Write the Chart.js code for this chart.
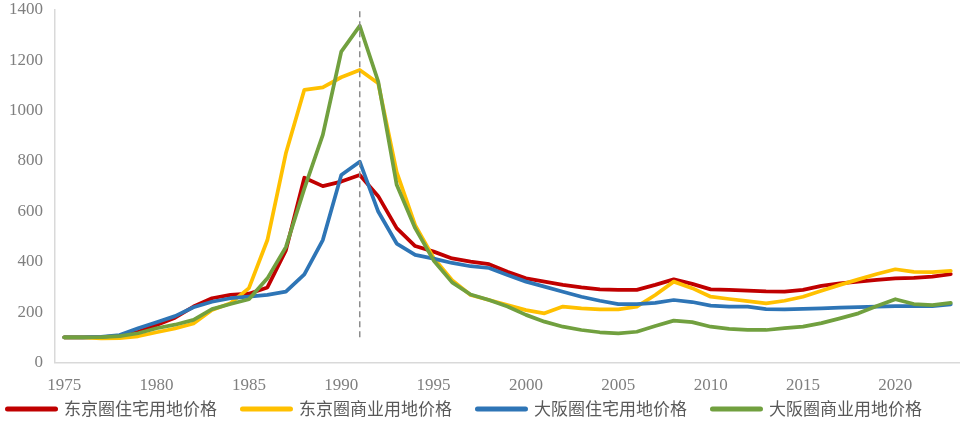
<!DOCTYPE html>
<html><head><meta charset="utf-8">
<script src="https://cdn.jsdelivr.net/npm/chart.js@4.4.0/dist/chart.umd.min.js"></script>
<style>html,body{margin:0;padding:0;background:#fff;} #wrap{width:960px;height:421px;position:relative;}</style>
</head><body><div id="wrap"><canvas id="c"></canvas></div>
<script>
const years = ['1975','1976','1977','1978','1979','1980','1981','1982','1983','1984','1985','1986','1987','1988','1989','1990','1991','1992','1993','1994','1995','1996','1997','1998','1999','2000','2001','2002','2003','2004','2005','2006','2007','2008','2009','2010','2011','2012','2013','2014','2015','2016','2017','2018','2019','2020','2021','2022','2023'];
const seriesNames = ['东京圈住宅用地价格','东京圈商业用地价格','大阪圈住宅用地价格','大阪圈商业用地价格'];
const tokyoResidential = [100,100,101,105,122,149,178,222,255,268,273,298,445,733,700,718,744,660,533,462,440,413,400,390,360,334,321,308,298,290,288,288,308,330,312,290,288,285,282,281,288,304,314,321,328,334,336,341,351];
const tokyoCommercial = [100,100,96,97,104,120,135,155,208,235,295,486,830,1082,1092,1132,1161,1108,755,545,415,327,268,248,228,208,195,222,215,211,211,222,268,321,295,261,252,244,235,245,261,285,308,330,351,370,360,359,364];
const osakaResidential = [100,100,102,109,136,160,184,219,241,255,261,268,281,350,486,744,797,599,472,427,412,395,382,375,347,321,301,281,261,245,232,232,237,248,240,226,222,222,212,211,213,215,218,220,222,224,224,224,231];
const osakaCommercial = [100,100,101,105,116,136,150,169,212,232,251,334,458,690,903,1234,1336,1115,705,533,405,318,270,248,222,189,162,142,129,120,116,122,145,166,160,142,133,129,129,136,142,156,175,195,224,251,232,228,237];
const markerYear = '1991';
const markerRange = [100, 1400];
const yTicks = [0,200,400,600,800,1000,1200,1400];
const xLabelEvery = 5;
const colors = ['#C00000','#FFC000','#2E75B6','#71A03F'];
const seriesData = [tokyoResidential, tokyoCommercial, osakaResidential, osakaCommercial];
const datasets = seriesData.map((d, i) => ({
  label: seriesNames[i], data: d, borderColor: colors[i], backgroundColor: colors[i],
  borderWidth: 3.75, pointRadius: 0, tension: 0, borderJoinStyle: 'round', borderCapStyle: 'round', order: 10 - i
}));
datasets.push({ label: 'marker', data: markerRange.map(v => ({x: markerYear, y: v})), borderColor: '#8c8c8c', borderWidth: 1.5, borderDash: [6, 4], pointRadius: 0, order: 0 });

const legendPad = 25.5;
const layoutTweak = {
  id: 'layoutTweak',
  beforeLayout(chart) {
    const lg = chart.legend;
    if (lg && !lg._tweaked) {
      const orig = lg.fit;
      lg.fit = function() { const mw = this.maxWidth; this.maxWidth = mw + 200; orig.call(this); this.maxWidth = mw; this.width = Math.min(this.width, mw); this.height = 12.1; };
      lg._tweaked = true;
    }
  },
  afterLayout(chart) {
    const lg = chart.legend;
    if (lg) {
      lg.top = chart.chartArea.bottom + 12.5; lg.bottom = lg.top + 46;
      lg.left = 7.5 - legendPad; lg.right = lg.left + 1100;
    }
  }
};

new Chart(document.getElementById('c'), {
  type: 'line',
  data: { labels: years, datasets },
  plugins: [layoutTweak],
  options: {
    responsive: true, maintainAspectRatio: false, animation: false, devicePixelRatio: 1,
    layout: { autoPadding: false, padding: 0 },
    plugins: {
      tooltip: { enabled: false },
      legend: {
        position: 'bottom', align: 'start',
        labels: {
          usePointStyle: true, pointStyleWidth: 48, padding: legendPad, color: '#595959',
          font: { family: '"Noto Sans CJK SC", sans-serif', size: 17 },
          filter: (item) => item.datasetIndex < 4,
          sort: (a, b) => a.datasetIndex - b.datasetIndex,
          generateLabels: (chart) => {
            const items = Chart.defaults.plugins.legend.labels.generateLabels(chart);
            items.forEach(it => { it.pointStyle = 'line'; it.lineWidth = 5; it.lineCap = 'round'; it.lineDash = []; });
            return items;
          }
        }
      }
    },
    scales: {
      x: {
        type: 'category', offset: true,
        grid: { display: false, drawTicks: false },
        border: { display: true, color: '#d9d9d9', width: 1.5 },
        ticks: { autoSkip: false, maxRotation: 0, minRotation: 0, padding: 13, color: '#7f7f7f', font: { family: '"Liberation Serif", serif', size: 17 },
          callback: function(v, i) { const y = years[i]; return (Number(y) % xLabelEvery === 0) ? y : ''; } },
        afterFit: (s) => { s.paddingRight = 0; s.paddingLeft = 0; }
      },
      y: {
        min: 0, max: 1400,
        afterBuildTicks: (s) => { s.ticks = yTicks.map(v => ({value: v})); },
        grid: { display: false, drawTicks: false },
        border: { display: true, color: '#d9d9d9', width: 1.5 },
        ticks: { padding: 12, color: '#7f7f7f', font: { family: '"Liberation Serif", serif', size: 17 }, callback: (v) => String(v) },
        afterFit: (s) => { s.width = 55; s.paddingTop = 9.7; s.paddingBottom = 0; }
      }
    }
  }
});
</script></body></html>
